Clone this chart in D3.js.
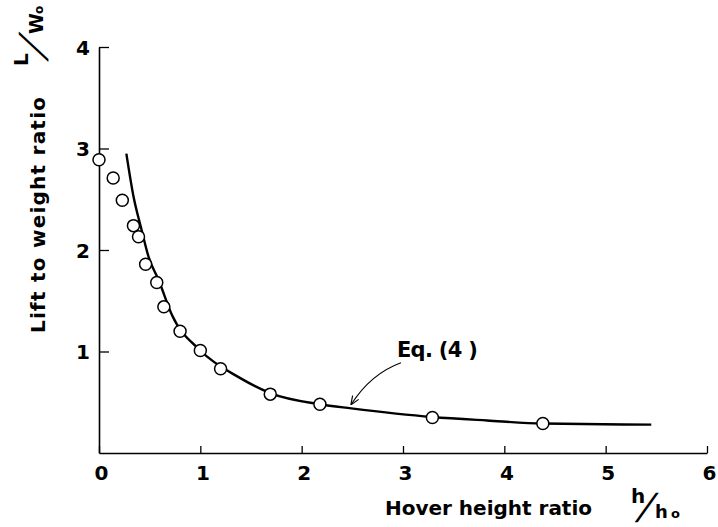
<!DOCTYPE html>
<meta charset="utf-8">
<head>
    <title>Lift to weight ratio vs hover height</title>
    <script src="https://d3js.org/d3.v7.min.js"></script>
    <style>
        body { margin: 0; background: #ffffff; }
        text { font-family: "DejaVu Sans", sans-serif; font-weight: bold; fill: #000; }
    </style>
</head>
<body>
<div id="my_dataviz"></div>
<script>

// measured points (h/ho, L/Wo)
var hObs = [0.0, 0.14, 0.23, 0.34, 0.39, 0.46, 0.57, 0.64, 0.80, 1.00, 1.20, 1.69, 2.18, 3.29, 4.38];
var lObs = [2.89, 2.71, 2.49, 2.24, 2.13, 1.86, 1.68, 1.44, 1.20, 1.01, 0.83, 0.58, 0.48, 0.35, 0.29];

// Eq. (4) curve
var hEq = [0.27, 0.34, 0.42, 0.49, 0.59, 0.72, 1.00, 1.39, 1.69, 2.18, 2.49, 3.29, 3.83, 4.38, 5.45];
var lEq = [2.95, 2.53, 2.20, 1.93, 1.70, 1.36, 1.01, 0.74, 0.59, 0.48, 0.44, 0.355, 0.32, 0.29, 0.28];

var xTicks = [0, 1, 2, 3, 4, 5, 6];
var yTicks = [1, 2, 3, 4];

var width = 718, height = 527;

var svg = d3.select("#my_dataviz")
    .append("svg")
    .attr("width", width)
    .attr("height", height);

var x = d3.scaleLinear().domain([0, 6]).range([99, 707]);
var y = d3.scaleLinear().domain([0, 4]).range([453, 47]);

// X axis (ticks pointing up, into the plot)
var gx = svg.append("g")
    .attr("transform", "translate(0," + y(0) + ")")
    .call(d3.axisBottom(x).tickValues(xTicks).tickFormat(d3.format("d"))
        .tickSize(-7).tickSizeOuter(0).tickPadding(13));
gx.select(".domain").attr("stroke-width", 1.6);
gx.selectAll(".tick line").attr("stroke-width", 1.3);
gx.selectAll(".tick text").style("font-size", "20px").attr("x", 2);

// Y axis (ticks pointing right)
var gy = svg.append("g")
    .attr("transform", "translate(" + x(0) + ",0)")
    .call(d3.axisLeft(y).tickValues(yTicks).tickFormat(d3.format("d"))
        .tickSize(-10).tickSizeOuter(0).tickPadding(9));
gy.select(".domain").attr("stroke-width", 1.6);
gy.selectAll(".tick line").attr("stroke-width", 1.3);
gy.selectAll(".tick text").style("font-size", "20px").attr("dy", "0.36em");

// Eq. (4) curve
var eqData = hEq.map(function(h, i) { return {h: h, l: lEq[i]}; });
svg.append("path")
    .datum(eqData)
    .attr("fill", "none")
    .attr("stroke", "#000")
    .attr("stroke-width", 2.4)
    .attr("d", d3.line()
        .curve(d3.curveMonotoneX)
        .x(function(d) { return x(d.h); })
        .y(function(d) { return y(d.l); }));

// measured points
var obsData = hObs.map(function(h, i) { return {h: h, l: lObs[i]}; });
svg.append("g")
    .selectAll("circle")
    .data(obsData)
    .enter()
    .append("circle")
        .attr("cx", function(d) { return x(d.h); })
        .attr("cy", function(d) { return y(d.l); })
        .attr("r", 6)
        .attr("fill", "#fff")
        .attr("stroke", "#000")
        .attr("stroke-width", 1.5);

// annotation
svg.append("defs").append("marker")
    .attr("id", "arrow")
    .attr("viewBox", "0 0 10 10")
    .attr("refX", 9).attr("refY", 5)
    .attr("markerWidth", 9).attr("markerHeight", 9)
    .attr("markerUnits", "userSpaceOnUse")
    .attr("orient", "auto")
    .append("path")
    .attr("d", "M0,1 L10,5 L0,9")
    .attr("fill", "none")
    .attr("stroke", "#000")
    .attr("stroke-width", 1.3);

var a0 = [x(2.98), y(0.89)], a1 = [x(2.49), y(0.48)], ac = [x(2.68), y(0.78)];
svg.append("path")
    .attr("d", "M" + a0 + " Q" + ac + " " + a1)
    .attr("fill", "none")
    .attr("stroke", "#000")
    .attr("stroke-width", 1.1)
    .attr("marker-end", "url(#arrow)");

svg.append("text")
    .attr("x", x(2.94)).attr("y", y(0.95))
    .style("font-size", "21px")
    .attr("textLength", 81)
    .attr("lengthAdjust", "spacing")
    .text("Eq. (4 )");

// X axis title
svg.append("text")
    .attr("x", 385).attr("y", 515)
    .style("font-size", "20px")
    .attr("textLength", 207)
    .attr("lengthAdjust", "spacing")
    .text("Hover  height  ratio");

var xu = svg.append("g");
xu.append("text").attr("x", 631).attr("y", 503).style("font-size", "20px").text("h");
xu.append("text").attr("transform", "translate(636,519) skewX(-22)")
    .style("font-size", "36px").style("font-weight", "normal").text("/");
xu.append("text").attr("x", 655).attr("y", 518).style("font-size", "18px").text("h");
xu.append("text").attr("x", 671).attr("y", 518).style("font-size", "13px").text("o");

// Y axis title
svg.append("text")
    .attr("transform", "translate(45,215) rotate(-90)")
    .attr("text-anchor", "middle")
    .style("font-size", "20px")
    .attr("textLength", 236)
    .attr("lengthAdjust", "spacing")
    .text("Lift  to  weight  ratio");

var yu = svg.append("g").attr("transform", "translate(43,70) rotate(-90)");
yu.append("text").attr("x", 4).attr("y", -15).style("font-size", "20px").text("L");
yu.append("text").attr("transform", "translate(10,2) skewX(-32)")
    .style("font-size", "36px").style("font-weight", "normal").text("/");
yu.append("text").attr("x", 36).attr("y", 0).style("font-size", "19px").text("W");
yu.append("text").attr("x", 56).attr("y", 0).style("font-size", "12px").text("o");

</script>
</body>
</html>
